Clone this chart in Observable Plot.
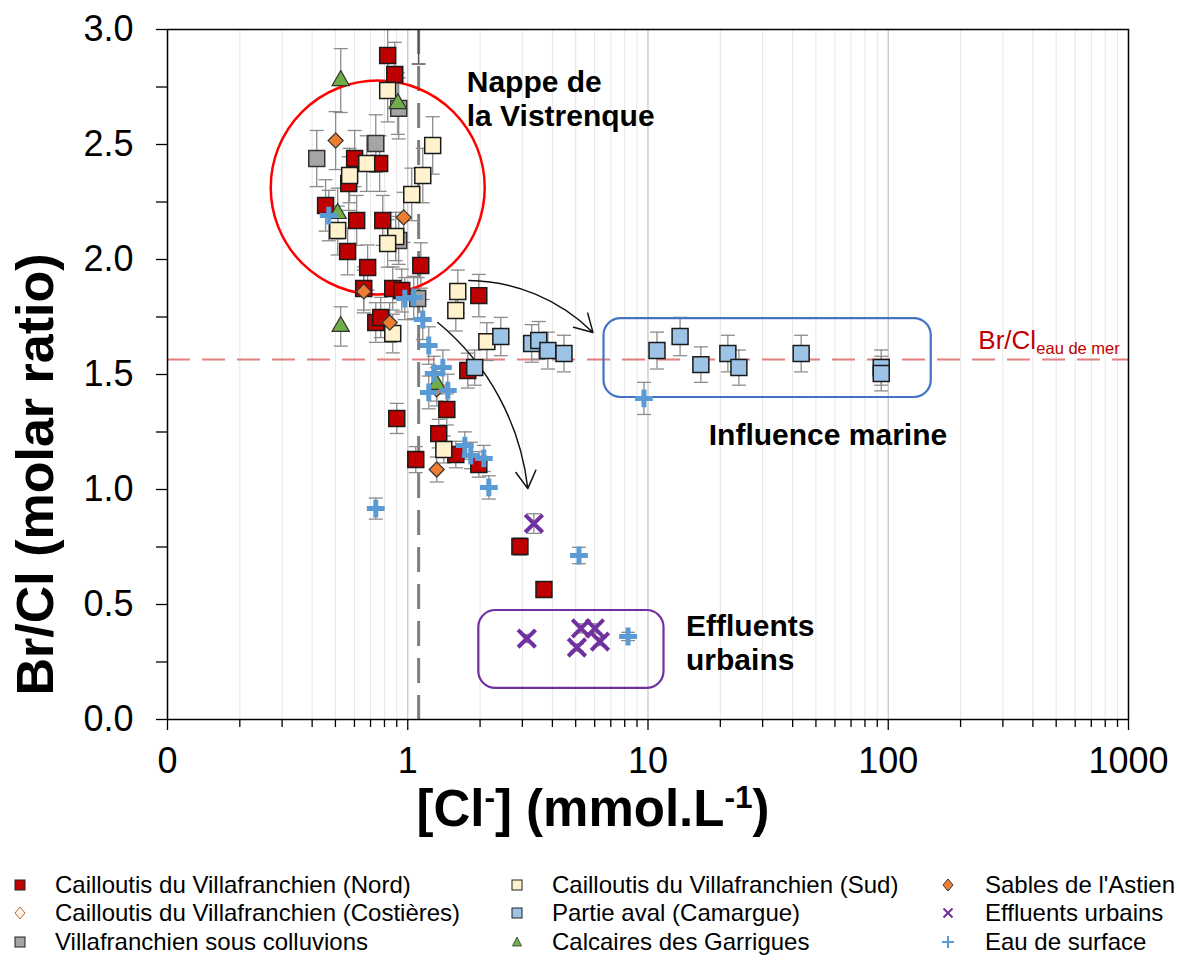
<!DOCTYPE html>
<html><head><meta charset="utf-8">
<script src="https://cdn.jsdelivr.net/npm/d3@7"></script>
<script src="https://cdn.jsdelivr.net/npm/@observablehq/plot@0.6"></script>
<style>
body{margin:0;background:#fff;font-family:"Liberation Sans",Arial,sans-serif;}
#wrap{position:relative;width:1180px;height:962px;overflow:hidden;}
#legend{position:absolute;left:0;top:850px;width:1180px;height:112px;}
.li{position:absolute;display:flex;align-items:center;font-size:24px;color:#000;white-space:nowrap;height:28px;}
.li svg{position:absolute;}
</style></head><body><div id="wrap"><div id="chart"></div><div id="legend"></div></div>
<script>
// ---------- DATA ----------
const seriesNames = [
  "Cailloutis du Villafranchien (Nord)",
  "Cailloutis du Villafranchien (Costières)",
  "Villafranchien sous colluvions",
  "Cailloutis du Villafranchien (Sud)",
  "Partie aval (Camargue)",
  "Calcaires des Garrigues",
  "Sables de l'Astien",
  "Effluents urbains",
  "Eau de surface"
];
const nordCl = [0.825,0.883,0.601,0.764,0.568,0.455,0.613,0.787,0.562,0.681,1.133,0.656,0.866,0.944,0.736,0.772,1.976,1.778,0.90,1.454,1.346,1.08,1.585,1.976,2.93,3.69];
const nordBr = [2.887,2.804,2.439,2.417,2.330,2.235,2.170,2.170,2.035,1.965,1.974,1.874,1.874,1.865,1.726,1.748,1.843,1.517,1.309,1.348,1.243,1.130,1.152,1.109,0.752,0.565];
const costieresCl = [];
const costieresBr = [];
const colluvCl = [0.418,0.736,0.917,1.10,0.917];
const colluvBr = [2.439,2.504,2.657,1.83,2.083];
const sudCl = [0.825,1.27,0.675,0.573,1.155,1.039,0.511,0.891,0.825,1.615,1.585,0.866,2.134,1.413];
const sudBr = [2.735,2.496,2.417,2.365,2.365,2.283,2.126,2.10,2.07,1.861,1.778,1.678,1.643,1.174];
const avalCl = [1.90,2.44,3.28,3.51,3.83,4.47,10.9,13.6,16.6,21.5,23.9,43.4,93.5,93.5];
const avalBr = [1.530,1.665,1.635,1.648,1.604,1.591,1.604,1.665,1.543,1.591,1.530,1.591,1.530,1.504];
const garriguesCl = [0.526,0.909,0.511,0.526,1.32];
const garriguesBr = [2.778,2.678,2.20,1.709,1.457];
const astienCl = [0.501,0.962,0.656,0.841,1.32,1.32];
const astienBr = [2.517,2.183,1.861,1.726,1.087,1.435];
const effluentsCl = [3.35,3.13,5.26,6.01,6.31,5.06];
const effluentsBr = [0.852,0.352,0.396,0.396,0.339,0.313];
const surfaceCl = [0.469,0.972,1.059,1.155,1.223,1.40,1.283,1.223,1.468,1.728,1.83,2.073,2.175,0.736,5.16,8.26,9.62];
const surfaceBr = [2.191,1.830,1.835,1.739,1.626,1.530,1.504,1.422,1.430,1.191,1.148,1.135,1.009,0.917,0.713,0.361,1.396];
const relError = 0.05;              // relative uncertainty on Br/Cl
const seawaterRatio = 1.565;        // Br/Cl eau de mer
const rainCl = 1.11;                // vertical reference [Cl-]
const rainClErrTop = 2.85;

const xTicks = [0.1, 1, 10, 100, 1000];
const xTickLabels = ["0", "1", "10", "100", "1000"];
const xMinorTicks = [2,3,4,5,6,7,8,9].flatMap(m => [0.1*m, m, 10*m, 100*m]);
const yTicks = [0, 0.5, 1, 1.5, 2, 2.5, 3];
const yTickLabels = ["0.0", "0.5", "1.0", "1.5", "2.0", "2.5", "3.0"];
const yMinorTicks = [0.25, 0.75, 1.25, 1.75, 2.25, 2.75];

// annotations (data coordinates)
const nappeCircle = [{cl: 0.75, br: 2.313}];
const marineBox = [{cl1: 6.56, cl2: 151, br1: 1.743, br2: 1.40}];
const effluentBox = [{cl1: 1.976, cl2: 11.66, br1: 0.474, br2: 0.135}];
const arrows = [
  {cl1: 1.795, br1: 1.909, cl2: 5.9, br2: 1.683},
  {cl1: 1.334, br1: 1.726, cl2: 3.16, br2: 1.004}
];
const labels = [
  {cl: 1.76, br: 2.83, text: "Nappe de\nla Vistrenque"},
  {cl: 14.4, br: 0.465, text: "Effluents\nurbains"}
];
const marineLabel = [{cl: 17.9, br: 1.235, text: "Influence marine"}];
const seaLabel = [{cl: 237, br: 1.609, main: "Br/Cl", sub: "eau de mer"}];
const yTitle = "Br/Cl (molar ratio)";
const xTitle = "[Cl-] (mmol.L-1)";

// ---------- STYLES ----------
const styles = {
  "Cailloutis du Villafranchien (Nord)": {symbol: "square", fill: "#c00000", stroke: "#1a1a1a", r: 9, sw: 1.5},
  "Cailloutis du Villafranchien (Costières)": {symbol: "diamond2", fill: "#fff2e6", stroke: "#c55a11", r: 6.8, sw: 1.5},
  "Villafranchien sous colluvions": {symbol: "square", fill: "#a5a5a5", stroke: "#333", r: 9, sw: 1.5},
  "Cailloutis du Villafranchien (Sud)": {symbol: "square", fill: "#fff2cc", stroke: "#1a1a1a", r: 9, sw: 1.5},
  "Partie aval (Camargue)": {symbol: "square", fill: "#9dc3e6", stroke: "#1a1a1a", r: 9, sw: 1.5},
  "Calcaires des Garrigues": {symbol: "triangle", fill: "#70ad47", stroke: "#333", r: 6.4, sw: 1.2},
  "Sables de l'Astien": {symbol: "diamond2", fill: "#ed7d31", stroke: "#333", r: 6.8, sw: 1.2},
  "Effluents urbains": {symbol: "times", fill: "none", stroke: "#7030a0", r: 8, sw: 4},
  "Eau de surface": {symbol: "plus", fill: "none", stroke: "#5b9bd5", r: 5.8, sw: 5}
};

const seriesData = {
  "Cailloutis du Villafranchien (Nord)": [nordCl, nordBr],
  "Cailloutis du Villafranchien (Costières)": [costieresCl, costieresBr],
  "Villafranchien sous colluvions": [colluvCl, colluvBr],
  "Cailloutis du Villafranchien (Sud)": [sudCl, sudBr],
  "Partie aval (Camargue)": [avalCl, avalBr],
  "Calcaires des Garrigues": [garriguesCl, garriguesBr],
  "Sables de l'Astien": [astienCl, astienBr],
  "Effluents urbains": [effluentsCl, effluentsBr],
  "Eau de surface": [surfaceCl, surfaceBr]
};
const drawOrder = [
  "Villafranchien sous colluvions",
  "Cailloutis du Villafranchien (Nord)",
  "Cailloutis du Villafranchien (Sud)",
  "Cailloutis du Villafranchien (Costières)",
  "Sables de l'Astien",
  "Partie aval (Camargue)",
  "Calcaires des Garrigues",
  "Effluents urbains",
  "Eau de surface"
];

const points = drawOrder.flatMap(s => seriesData[s][0].map((cl, i) => ({series: s, cl, br: seriesData[s][1][i]})));

const capSymbol = {draw(ctx) { ctx.moveTo(-7, 0); ctx.lineTo(7, 0); }};
const xLabelMap = new Map(xTicks.map((t, i) => [t, xTickLabels[i]]));
const yLabelMap = new Map(yTicks.map((t, i) => [t, yTickLabels[i]]));
const FONT = "'Liberation Sans', Arial, sans-serif";

const errMarks = [
  Plot.ruleX(points, {x: "cl", y1: d => d.br * (1 - relError), y2: d => d.br * (1 + relError), stroke: "#8c8c8c", strokeWidth: 1.3, clip: true}),
  Plot.dot(points, {x: "cl", y: d => d.br * (1 - relError), symbol: capSymbol, r: 5, stroke: "#8c8c8c", strokeWidth: 1.3, fill: "none", clip: true}),
  Plot.dot(points, {x: "cl", y: d => d.br * (1 + relError), symbol: capSymbol, r: 5, stroke: "#8c8c8c", strokeWidth: 1.3, fill: "none", clip: true})
];

const pointMarks = drawOrder.map(s => {
  const st = styles[s];
  return Plot.dot(points.filter(d => d.series === s), {
    x: "cl", y: "br", symbol: st.symbol, r: st.r, fill: st.fill, stroke: st.stroke, strokeWidth: st.sw
  });
});

const chart = Plot.plot({
  width: 1180, height: 850,
  marginLeft: 167, marginRight: 52, marginTop: 29, marginBottom: 131,
  style: {fontFamily: FONT, fontSize: "20px", color: "#000", background: "#fff", overflow: "visible"},
  x: {type: "log", domain: [0.1, 1000]},
  y: {domain: [0, 3]},
  marks: [
    Plot.gridX(xMinorTicks, {stroke: "#e6e6e6", strokeOpacity: 1, strokeWidth: 1}),
    Plot.gridX(xTicks, {stroke: "#c4c4c4", strokeOpacity: 1, strokeWidth: 1.2}),
    Plot.ruleY([seawaterRatio], {stroke: "#e47f7f", strokeWidth: 2, strokeDasharray: "23,12"}),
    Plot.ruleX([rainCl], {stroke: "#7f7f7f", strokeWidth: 3, strokeDasharray: "25,12"}),
    Plot.ruleX([rainCl], {y1: rainClErrTop, y2: 3, stroke: "#555", strokeWidth: 1.5}),
    Plot.dot([rainCl], {x: d => d, y: rainClErrTop, symbol: capSymbol, stroke: "#555", strokeWidth: 1.5}),
    ...errMarks,
    Plot.dot(nappeCircle, {x: "cl", y: "br", r: 107, stroke: "#ff0000", strokeWidth: 2.5, fill: "none"}),
    Plot.rect(marineBox, {x1: "cl1", x2: "cl2", y1: "br1", y2: "br2", rx: 17, stroke: "#4472c4", strokeWidth: 2.2, fill: "none"}),
    Plot.rect(effluentBox, {x1: "cl1", x2: "cl2", y1: "br1", y2: "br2", rx: 17, stroke: "#7030a0", strokeWidth: 2.2, fill: "none"}),
    Plot.arrow(arrows, {x1: "cl1", y1: "br1", x2: "cl2", y2: "br2", bend: 22, stroke: "#111", strokeWidth: 1.5, headLength: 20}),
    ...pointMarks,
    Plot.text(labels, {x: "cl", y: "br", text: "text", textAnchor: "start", lineAnchor: "top", lineHeight: 1.12, fontSize: 30, fontWeight: "bold", fill: "#000"}),
    Plot.text(marineLabel, {x: "cl", y: "br", text: "text", textAnchor: "start", fontSize: 30, fontWeight: "bold", fill: "#000"}),
    Plot.text(seaLabel, {x: "cl", y: "br", text: "main", textAnchor: "start", lineAnchor: "bottom", fontSize: 26, fill: "#c00000"}),
    Plot.text(seaLabel, {x: "cl", y: "br", text: "sub", textAnchor: "start", lineAnchor: "bottom", dx: 58, dy: 5, fontSize: 16.5, fill: "#c00000"}),
    Plot.frame({stroke: "#000", strokeWidth: 1.5}),
    Plot.axisX(xMinorTicks, {tickSize: 8, tickFormat: () => "", strokeWidth: 1.3}),
    Plot.axisX(xTicks, {tickSize: 11, tickPadding: 17, tickFormat: d => xLabelMap.get(d), fontSize: 36, strokeWidth: 1.3, label: null}),
    Plot.axisY(yMinorTicks, {tickSize: 11, tickFormat: () => "", strokeWidth: 1.3}),
    Plot.axisY(yTicks, {tickSize: 11, tickPadding: 23, tickFormat: d => yLabelMap.get(d), fontSize: 36, strokeWidth: 1.3, label: null}),
    Plot.text([yTitle], {text: d => d, frameAnchor: "left", textAnchor: "middle", rotate: -90, dx: -131, dy: 100, fontSize: 52, fontWeight: "bold", fill: "#000"}),
    Plot.text([xTitle], {text: d => d, frameAnchor: "bottom", textAnchor: "middle", dx: -55, dy: 106, fontSize: 51, fontWeight: "bold", fill: "#000", className: "xtitle"})
  ]
});
document.getElementById("chart").appendChild(chart);

// superscripts in the x title
d3.select(chart).select("g.xtitle text")
  .html('[Cl<tspan baseline-shift="super" font-size="0.62em">-</tspan>] (mmol.L<tspan baseline-shift="super" font-size="0.62em">-1</tspan>)');

// ---------- LEGEND ----------
const legendLayout = [
  ["Cailloutis du Villafranchien (Nord)", 0, 0],
  ["Cailloutis du Villafranchien (Costières)", 0, 1],
  ["Villafranchien sous colluvions", 0, 2],
  ["Cailloutis du Villafranchien (Sud)", 1, 0],
  ["Partie aval (Camargue)", 1, 1],
  ["Calcaires des Garrigues", 1, 2],
  ["Sables de l'Astien", 2, 0],
  ["Effluents urbains", 2, 1],
  ["Eau de surface", 2, 2]
];
const colMarker = [20, 517, 948], colText = [55, 552, 985], rowY = [35, 63, 92];
function legendSymbol(s) {
  const st = styles[s];
  let inner;
  if (st.symbol === "square") inner = `<rect x="5" y="5" width="10" height="10" fill="${st.fill}" stroke="#222" stroke-width="1"/>`;
  else if (st.symbol === "diamond2") inner = `<path d="M10 4 L15 10 L10 16 L5 10 Z" fill="${st.fill}" stroke="${s.includes('Costi') ? '#b07040' : '#333'}" stroke-width="1"/>`;
  else if (st.symbol === "triangle") inner = `<path d="M10 5 L14.5 14 L5.5 14 Z" fill="${st.fill}" stroke="#333" stroke-width="0.8"/>`;
  else if (st.symbol === "times") inner = `<path d="M5.5 5.5 L14.5 14.5 M14.5 5.5 L5.5 14.5" stroke="${st.stroke}" stroke-width="2"/>`;
  else inner = `<path d="M10 4 L10 16 M4 10 L16 10" stroke="${st.stroke}" stroke-width="2"/>`;
  return `<svg width="20" height="20" viewBox="0 0 20 20">${inner}</svg>`;
}
const legend = document.getElementById("legend");
legendLayout.forEach(([s, c, r]) => {
  const sym = document.createElement("div");
  sym.style.cssText = `position:absolute;left:${colMarker[c] - 10}px;top:${rowY[r] - 10}px;width:20px;height:20px;`;
  sym.innerHTML = legendSymbol(s);
  legend.appendChild(sym);
  const t = document.createElement("div");
  t.className = "li";
  t.style.left = colText[c] + "px";
  t.style.top = (rowY[r] - 14) + "px";
  t.textContent = s;
  legend.appendChild(t);
});
</script></body></html>
